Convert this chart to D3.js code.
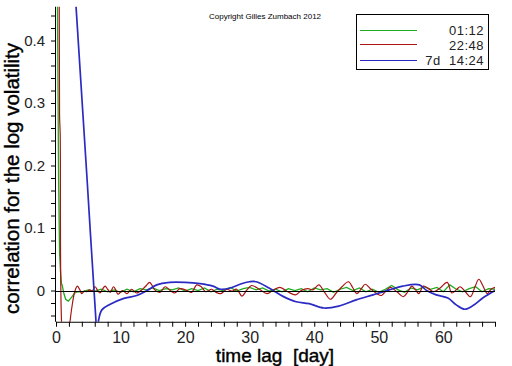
<!DOCTYPE html>
<html>
<head>
<meta charset="utf-8">
<script src="https://cdn.jsdelivr.net/npm/d3@7"></script>
<style>
  html, body { margin: 0; padding: 0; background: #fff; }
  svg { display: block; }
  text { font-family: "Liberation Sans", Arial, sans-serif; }
</style>
</head>
<body>
<svg id="chart" width="512" height="366"></svg>
<script>
// ---------- data ----------
const xDomain = [0, 68];
const yDomain = [-0.05, 0.454];
const xMajorTicks = [0, 10, 20, 30, 40, 50, 60];
const yMajorTicks = [0, 0.1, 0.2, 0.3, 0.4];
const yTickLabels = ["0", "0.1", "0.2", "0.3", "0.4"];
const legendLabels = ["01:12", "22:48", "7d  14:24"];
const seriesColors = ["#1faa1f", "#aa1414", "#2b2bc4"];

// green: 01:12 [day, correlation]
const green = [
  [0, 1.0], [0.2, 0.5], [0.4, 0.18], [0.55, 0.06], [0.7, 0.03], [0.85, 0.01], [0.95, 0.009],
  [1.2, -0.004], [1.5, -0.014], [1.9, -0.017], [2.4, -0.011], [2.9, -0.004], [3.4, -0.002],
  [4, -0.002], [5, 0.001], [6, -0.001], [7, 0.002], [8, -0.002], [9, 0.001], [10, -0.003],
  [11, 0.002], [12, -0.002], [13, 0.003], [14, 0.001], [15, 0.004], [16, 0.000], [17, 0.003],
  [18, 0.001], [19, 0.004], [20, -0.001], [21, 0.003], [22, 0.000], [23, 0.004], [24, -0.002],
  [25, 0.002], [26, 0.000], [27, 0.005], [28, -0.001], [29, 0.003], [30, 0.005], [31, 0.001],
  [32, 0.004], [33, -0.001], [34, 0.002], [35, -0.002], [36, 0.003], [37, 0.000], [38, 0.003],
  [39, -0.002], [40, 0.004], [41, 0.001], [42, 0.003], [43, -0.003], [44, 0.002], [45, 0.005],
  [46, 0.000], [47, 0.004], [48, -0.002], [49, 0.002], [50, -0.003], [51, 0.002], [52, 0.008],
  [53, 0.001], [54, -0.003], [55, 0.004], [56, 0.001], [57, 0.006], [58, 0.002], [59, 0.005],
  [60, -0.002], [61, 0.009], [62, 0.002], [63, -0.002], [64, 0.003], [65, 0.006], [66, -0.002],
  [67, 0.003], [68, 0.002]
];

// red: 22:48
const red = [
  [0, 1.0], [0.45, 0.6], [0.55, 0.28], [0.65, 0.25], [0.9, -0.06], [1.5, -0.12], [2.17, -0.05],
  [2.5, -0.024], [2.9, -0.002], [3.3, 0.007], [3.65, 0.002], [4.0, -0.005], [4.4, -0.001],
  [4.75, -0.002], [5.2, 0.001], [5.6, -0.001], [6.05, 0.006], [6.4, 0.001], [6.8, -0.004],
  [7.2, 0.002], [7.6, 0.007], [8.0, 0.002], [8.4, -0.003], [8.9, 0.006], [9.25, 0.001],
  [9.6, -0.006], [10.3, 0.000], [11.0, -0.005], [11.7, 0.002], [12.5, -0.004], [13.5, 0.003],
  [14.0, 0.008], [14.5, 0.013], [15.0, 0.006], [15.3, 0.001], [16.1, -0.003], [16.9, 0.006],
  [17.7, 0.000], [18.4, -0.004], [19.2, 0.003], [20.3, 0.000], [21.0, -0.003], [21.8, 0.009],
  [22.5, 0.006], [23.2, -0.002], [24.1, 0.002], [24.8, -0.003], [25.5, -0.005], [26.5, 0.002],
  [27.2, -0.001], [28.0, 0.002], [28.8, -0.009], [29.5, 0.000], [30.3, 0.008], [31.5, 0.002],
  [32.7, -0.005], [33.7, 0.001], [34.7, 0.005], [35.9, -0.002], [37.1, -0.007], [38.0, 0.000],
  [39.0, 0.003], [39.8, 0.001], [40.7, 0.009], [41.6, -0.003], [42.5, -0.014], [43.4, -0.004],
  [44.3, 0.006], [45.3, 0.014], [46.0, 0.004], [46.6, -0.005], [47.3, 0.003], [47.9, 0.010],
  [48.8, 0.002], [49.7, -0.005], [50.4, -0.008], [51.1, -0.001], [51.8, 0.005], [52.8, -0.002],
  [53.8, -0.010], [54.5, -0.002], [55.1, 0.007], [55.7, 0.001], [56.2, -0.005], [56.9, 0.007],
  [57.7, 0.003], [58.5, -0.002], [59.5, 0.004], [60.6, 0.013], [61.3, -0.004], [62.0, 0.001],
  [62.6, 0.006], [63.4, -0.002], [64.2, -0.010], [64.9, 0.006], [65.5, 0.018], [66.1, 0.008],
  [66.8, -0.005], [67.4, 0.002], [68, 0.005]
];

// blue: 7d 14:24
const blue = [
  [0, 1.0], [3.1, 0.455], [4.85, 0.172], [6.2, -0.05], [6.4, -0.07], [6.56, -0.05],
  [7.1, -0.031], [8.4, -0.022], [10.4, -0.013], [12.5, -0.008], [14.1, 0.000], [15.6, 0.009],
  [17.6, 0.013], [20, 0.013], [22.3, 0.011], [24.3, 0.007], [25.5, 0.002], [27, 0.004],
  [28.5, 0.010], [30, 0.014], [31, 0.014], [33, 0.004], [35.1, -0.009], [37.2, -0.018],
  [39.2, -0.021], [41.5, -0.028], [43.8, -0.025], [46.5, -0.015], [49.1, -0.007], [51.6, 0.001],
  [53.7, 0.007], [56.3, 0.009], [57.4, 0.000], [58.9, -0.007], [60.7, -0.012], [62, -0.023],
  [63.3, -0.030], [64.6, -0.024], [66.1, -0.012], [68, 0.000]
];

// ---------- layout ----------
const pLeft = 56, pRight = 495, pTop = 6.75, pBottom = 321.75;
const svg = d3.select("#chart");
svg.append("rect").attr("width", 512).attr("height", 366).attr("fill", "#fff");

const x = d3.scaleLinear().domain(xDomain).range([pLeft, pRight]);
const y = d3.scaleLinear().domain(yDomain).range([pBottom, pTop]);

svg.append("defs").append("clipPath").attr("id", "clip")
  .append("rect").attr("x", pLeft).attr("y", pTop)
  .attr("width", pRight - pLeft).attr("height", pBottom - pTop);

// ---------- series ----------
const line = d3.line().x(d => x(d[0])).y(d => y(d[1])).curve(d3.curveCatmullRom.alpha(0.5));
const lineLin = d3.line().x(d => x(d[0])).y(d => y(d[1]));
const g = svg.append("g").attr("clip-path", "url(#clip)");
g.append("path").datum(green).attr("d", lineLin).attr("fill", "none")
  .attr("stroke", seriesColors[0]).attr("stroke-width", 1.3);
g.append("path").datum(red).attr("d", line).attr("fill", "none")
  .attr("stroke", seriesColors[1]).attr("stroke-width", 1.2);
g.append("path").datum(blue).attr("d", line).attr("fill", "none")
  .attr("stroke", seriesColors[2]).attr("stroke-width", 1.7);

// zero line
g.append("line").attr("x1", pLeft).attr("x2", pRight)
  .attr("y1", Math.round(y(0)) + 0.5).attr("y2", Math.round(y(0)) + 0.5)
  .attr("stroke", "#000").attr("stroke-width", 1.2);

// ---------- axes ----------
const xAxis = d3.axisBottom(x).tickValues(d3.range(0, 68.01, 2)).tickSize(5)
  .tickFormat(d => xMajorTicks.includes(d) ? d : "");
const gx = svg.append("g").attr("transform", `translate(0,${pBottom})`).call(xAxis);
gx.select(".domain").attr("d", `M${pLeft},0.5H${pRight}`).attr("stroke", "#000");
gx.selectAll(".tick line").attr("stroke", "#000");
gx.selectAll(".tick text").attr("font-size", 16).attr("fill", "#222")
  .attr("font-family", "Liberation Sans, Arial, sans-serif").attr("dy", null).attr("y", 21.5);

const yAxis = d3.axisLeft(y).tickValues(d3.range(-0.04, 0.4501, 0.02).map(v => +v.toFixed(2))).tickSize(5)
  .tickFormat(d => { const i = yMajorTicks.findIndex(t => Math.abs(t - d) < 1e-9); return i >= 0 ? yTickLabels[i] : ""; });
const gy = svg.append("g").attr("transform", `translate(${pLeft},0)`).call(yAxis);
gy.select(".domain").attr("d", `M-0.5,${pTop}V${pBottom}`).attr("stroke", "#000");
gy.selectAll(".tick line").attr("stroke", "#000");
gy.selectAll(".tick text").attr("font-size", 15).attr("fill", "#222")
  .attr("font-family", "Liberation Sans, Arial, sans-serif").attr("x", -11);

// ---------- titles ----------
svg.append("text").attr("x", 275).attr("y", 362).attr("text-anchor", "middle")
  .attr("font-size", 19).attr("fill", "#000").attr("stroke", "#000").attr("stroke-width", 0.4)
  .style("white-space", "pre").text("time lag  [day]");
svg.append("text").attr("transform", "translate(19,178.5) rotate(-90)").attr("text-anchor", "middle")
  .attr("font-size", 20.5).attr("fill", "#000").attr("stroke", "#000").attr("stroke-width", 0.4)
  .text("correlation for the log volatility");
svg.append("text").attr("x", 265).attr("y", 19).attr("text-anchor", "middle")
  .attr("font-size", 8).attr("fill", "#000").text("Copyright Gilles Zumbach 2012");

// ---------- legend ----------
const lg = svg.append("g");
lg.append("rect").attr("x", 356.5).attr("y", 14.5).attr("width", 132).attr("height", 55)
  .attr("fill", "#fff").attr("stroke", "#000");
const legendY = [30.5, 44.5, 60.5];
const legendBase = [35, 49.5, 65];
legendLabels.forEach((lab, i) => {
  lg.append("line").attr("x1", 360).attr("x2", 417).attr("y1", legendY[i]).attr("y2", legendY[i])
    .attr("stroke", seriesColors[i]).attr("stroke-width", 1.2);
  lg.append("text").attr("x", 484).attr("y", legendBase[i]).attr("text-anchor", "end")
    .attr("font-size", 13).attr("letter-spacing", 0.5).attr("fill", "#222")
    .style("white-space", "pre").text(lab);
});
</script>
</body>
</html>
